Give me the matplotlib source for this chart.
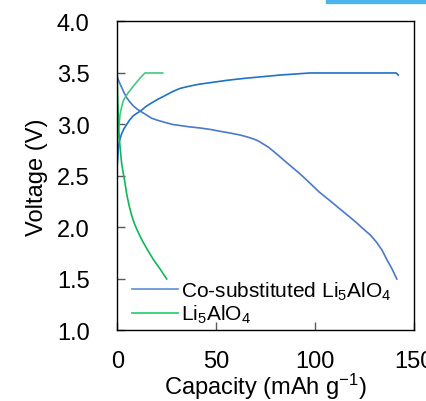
import matplotlib
matplotlib.use("Agg")
import matplotlib.pyplot as plt
from matplotlib.patches import Rectangle

plt.rcParams['font.family'] = ['Liberation Sans', 'DejaVu Sans']
plt.rcParams['mathtext.default'] = 'regular'

# Co-substituted Li5AlO4, charge and discharge
co_charge_cap = [0, 0.2, 0.5, 1.2, 2.2, 3.4, 4.75, 6.3, 8.1, 10, 12, 14.5, 17.4, 20.5, 24.1,
                 28, 31.7, 36, 41, 48.5, 56, 65.4, 74, 82.3, 90, 97.4, 110, 125, 141, 142]
co_charge_v = [2.62, 2.66, 2.78, 2.85, 2.91, 2.96, 3.0, 3.045, 3.085, 3.11, 3.135, 3.175, 3.21,
               3.245, 3.28, 3.32, 3.35, 3.37, 3.39, 3.41, 3.43, 3.45, 3.465, 3.48, 3.49, 3.5,
               3.5, 3.5, 3.5, 3.48]
co_dis_cap = [0, 0.2, 1.0, 2.2, 3.4, 4.75, 6.3, 8.1, 10, 12, 14.5, 17.4, 20.5, 24.1, 28, 31.7,
              36, 41.8, 47, 51.9, 57, 62, 65.5, 68.8, 71.5, 73.8, 76.5, 78.9, 82, 85.6, 89,
              92.4, 97.4, 102, 107.5, 112.5, 117.6, 121, 124.4, 128, 131.1, 133.8, 136.2,
              138.8, 141.3]
co_dis_v = [3.47, 3.45, 3.41, 3.36, 3.31, 3.26, 3.22, 3.18, 3.15, 3.125, 3.095, 3.06, 3.04,
            3.02, 3.0, 2.99, 2.978, 2.966, 2.952, 2.934, 2.917, 2.898, 2.88, 2.86, 2.838, 2.81,
            2.778, 2.74, 2.69, 2.63, 2.575, 2.52, 2.43, 2.345, 2.26, 2.18, 2.10, 2.045, 1.985,
            1.925, 1.856, 1.78, 1.69, 1.6, 1.5]

# pristine Li5AlO4
li_charge_cap = [0, 0.4, 0.9, 1.4, 2.2, 3.0, 4.2, 5.6, 7.2, 8.9, 11.5, 14, 18, 23]
li_charge_v = [2.8, 2.92, 3.0, 3.1, 3.17, 3.23, 3.27, 3.31, 3.35, 3.39, 3.45, 3.5, 3.5, 3.5]
li_dis_cap = [0, 0.3, 0.6, 1.0, 1.4, 1.8, 2.2, 3.0, 3.9, 4.7, 6.0, 7.3, 8.5, 9.8, 11.4, 13.1,
              15.5, 18.2, 21.5, 25]
li_dis_v = [3.4, 3.2, 3.0, 2.87, 2.78, 2.7, 2.62, 2.53, 2.43, 2.33, 2.21, 2.115, 2.045, 1.985,
            1.92, 1.856, 1.775, 1.69, 1.6, 1.5]

fig = plt.figure(figsize=(4.27, 4.02), dpi=100)
ax = fig.add_axes([0.2747, 0.1754, 0.695, 0.7687])

ax.plot(co_charge_cap, co_charge_v, color="#1f72c6", lw=1.2)
ax.plot(co_dis_cap, co_dis_v, color="#4a78cc", lw=1.2, label="Co-substituted Li$_5$AlO$_4$")
ax.plot(li_charge_cap, li_charge_v, color="#45c77f", lw=1.2)
ax.plot(li_dis_cap, li_dis_v, color="#0fb857", lw=1.2, label="Li$_5$AlO$_4$")

ax.set_xlim(0, 150)
ax.set_ylim(1.0, 4.0)
ax.set_xticks([0, 50, 100, 150])
ax.set_yticks([1.0, 1.5, 2.0, 2.5, 3.0, 3.5, 4.0])
ax.set_yticklabels(["1.0", "1.5", "2.0", "2.5", "3.0", "3.5", "4.0"])
ax.tick_params(direction="in", length=5.5, width=1, color="#595959", labelsize=17, pad=20)
ax.tick_params(axis="x", pad=14)
for s in ax.spines.values():
    s.set_linewidth(1)

ax.set_xlabel("Capacity (mAh g$^{-1}$)", fontsize=17, labelpad=-1)
ax.set_ylabel("Voltage (V)", fontsize=17, labelpad=6)

leg = ax.legend(loc="lower left", bbox_to_anchor=(0.0, -0.03), frameon=False, fontsize=15,
                handlelength=2.2, handletextpad=0.18, labelspacing=0.05, borderaxespad=0.3)
leg.legend_handles[0].set_color("#5b8fd6")
leg.legend_handles[1].set_color("#1fcc6a")

fig.patches.append(Rectangle((326 / 427, 1 - 4 / 402), 101 / 427, 4 / 402,
                             transform=fig.transFigure, color="#4ab4ee", zorder=5))

fig.savefig("out.png", dpi=100)
